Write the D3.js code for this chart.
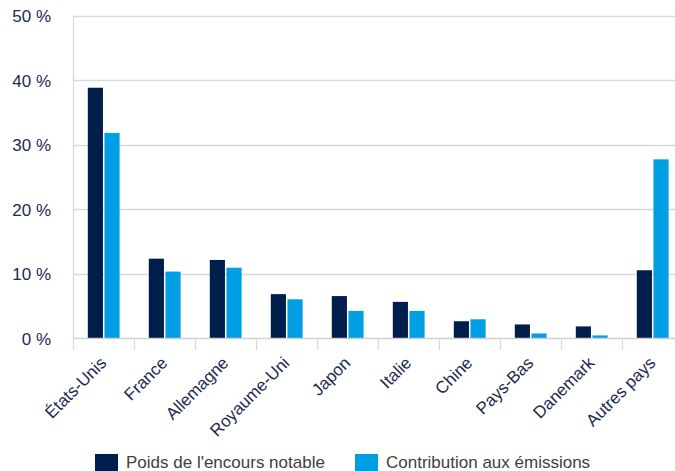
<!DOCTYPE html>
<html>
<head>
<meta charset="utf-8">
<script src="https://cdn.jsdelivr.net/npm/d3@7"></script>
<style>
html,body{margin:0;padding:0;background:#fff;}
svg{display:block;font-family:"Liberation Sans",Arial,sans-serif;}
</style>
</head>
<body>
<svg id="chart" width="675" height="471"></svg>
<script>
const categories = ["États-Unis","France","Allemagne","Royaume-Uni","Japon","Italie","Chine","Pays-Bas","Danemark","Autres pays"];
const seriesNames = ["Poids de l'encours notable","Contribution aux émissions"];
const poids = [38.8, 12.3, 12.1, 6.8, 6.5, 5.6, 2.6, 2.1, 1.8, 10.5];
const contribution = [31.8, 10.3, 10.9, 6.0, 4.2, 4.2, 2.9, 0.7, 0.4, 27.7];
const yTicks = [0, 10, 20, 30, 40, 50];
const colors = ["#001e4b", "#009fe3"];

(function () {
const svg = d3.select("#chart");
const pLeft = 73, pRight = 683, pTop = 15.5, pBottom = 338;

const x = d3.scaleBand().domain(categories).range([pLeft, pRight]).paddingInner(0).paddingOuter(0);
const x1 = d3.scaleBand().domain(seriesNames).range([14.8, 46.6]).paddingInner(0.09);
const y = d3.scaleLinear().domain([0, 50]).range([pBottom, pTop]);

// gridlines
svg.append("g").selectAll("line").data(yTicks.filter(d => d > 0)).join("line")
  .attr("x1", pLeft).attr("x2", pRight)
  .attr("y1", d => Math.round(y(d)) + 0.5).attr("y2", d => Math.round(y(d)) + 0.5)
  .attr("stroke", "#d9d9d9").attr("stroke-width", 1.3);

// left axis line
svg.append("line").attr("x1", pLeft + 0.5).attr("x2", pLeft + 0.5).attr("y1", pTop).attr("y2", pBottom)
  .attr("stroke", "#d9d9d9").attr("stroke-width", 1.3);

// y labels
const yAxis = d3.axisLeft(y).tickValues(yTicks).tickSize(0).tickPadding(22).tickFormat(d => d + " %");
const yg = svg.append("g").attr("transform", `translate(${pLeft},0)`).call(yAxis);
yg.select(".domain").remove();
yg.selectAll("text").attr("font-size", 17).attr("fill", "#1c2b4f").attr("font-family", "Liberation Sans, Arial, sans-serif").attr("dy", "0.36em");

// bars
const data = categories.map((c, i) => ({cat: c, vals: [poids[i], contribution[i]]}));
const groups = svg.append("g").selectAll("g").data(data).join("g")
  .attr("transform", d => `translate(${x(d.cat)},0)`);
groups.selectAll("rect").data(d => d.vals.map((v, j) => ({name: seriesNames[j], v, j}))).join("rect")
  .attr("x", d => x1(d.name))
  .attr("width", x1.bandwidth())
  .attr("y", d => y(d.v))
  .attr("height", d => y(0) - y(d.v))
  .attr("fill", d => colors[d.j]);

// x axis baseline
svg.append("line").attr("x1", pLeft).attr("x2", pRight).attr("y1", pBottom + 0.5).attr("y2", pBottom + 0.5)
  .attr("stroke", "#d0d0d0").attr("stroke-width", 1.5);

// tick marks at category boundaries
const bounds = categories.map(c => x(c)).concat([pRight]);
svg.append("g").selectAll("line").data(bounds).join("line")
  .attr("x1", d => Math.round(d) + 0.5).attr("x2", d => Math.round(d) + 0.5)
  .attr("y1", pBottom).attr("y2", pBottom + 12)
  .attr("stroke", "#d3dbea").attr("stroke-width", 1.3);

// x labels
svg.append("g").selectAll("text").data(categories).join("text")
  .attr("transform", d => `translate(${x(d) + x.bandwidth() / 2 + 4},${pBottom + 26}) rotate(-45)`)
  .attr("text-anchor", "end")
  .attr("font-size", 17)
  .attr("fill", "#1c2b4f")
  .text(d => d);

// legend
const legX = [95, 355];
const leg = svg.append("g").selectAll("g").data(seriesNames).join("g")
  .attr("transform", (d, i) => `translate(${legX[i]},454)`);
leg.append("rect").attr("width", 23).attr("height", 17).attr("fill", (d, i) => colors[i]);
leg.append("text").attr("x", 31).attr("y", 14).attr("font-size", 17).attr("fill", "#404040").text(d => d);
})();
</script>
</body>
</html>
